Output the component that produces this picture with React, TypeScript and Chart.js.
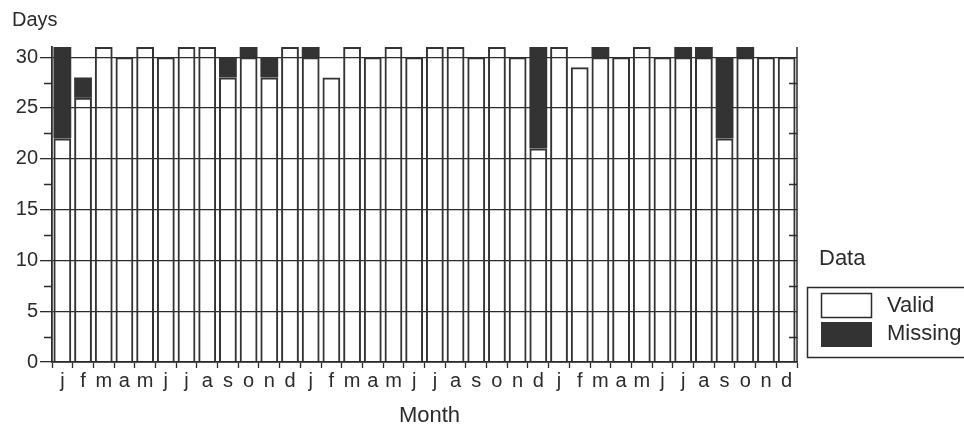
import React, { useEffect, useRef } from "react";
import { Chart, registerables } from "chart.js";

Chart.register(...registerables);

const monthLabels = [
  "j", "f", "m", "a", "m", "j", "j", "a", "s", "o", "n", "d",
  "j", "f", "m", "a", "m", "j", "j", "a", "s", "o", "n", "d",
  "j", "f", "m", "a", "m", "j", "j", "a", "s", "o", "n", "d",
];

const validDays = [
  22, 26, 31, 30, 31, 30, 31, 31, 28, 30, 28, 31,
  30, 28, 31, 30, 31, 30, 31, 31, 30, 31, 30, 21,
  31, 29, 30, 30, 31, 30, 30, 30, 22, 30, 30, 30,
];

const missingDays = [
  9, 2, null, null, null, null, null, null, 2, 1, 2, null,
  1, null, null, null, null, null, null, null, null, null, null, 10,
  null, null, 1, null, null, null, 1, 1, 8, 1, null, null,
];

const yMajorTicks = [0, 5, 10, 15, 20, 25, 30];
const yMinorTicks = [2.5, 7.5, 12.5, 17.5, 22.5, 27.5];

const INK = "#2b2b2b";
const DARK = "#333333";
const FONT = "'Liberation Sans', Arial, Helvetica, sans-serif";

const decorPlugin = {
  id: "decor",
  afterDraw(chart: any) {
    const ctx = chart.ctx;
    const y = chart.scales.y;
    const area = chart.chartArea;
    ctx.save();
    ctx.strokeStyle = INK;
    ctx.lineWidth = 1.5;
    // right axis line
    ctx.beginPath();
    ctx.moveTo(area.right, y.getPixelForValue(31));
    ctx.lineTo(area.right, y.getPixelForValue(0));
    ctx.stroke();
    // minor ticks left (outward) and right (inward)
    ctx.lineWidth = 1.3;
    for (const v of yMinorTicks) {
      const py = Math.round(y.getPixelForValue(v)) + 0.5;
      ctx.beginPath();
      ctx.moveTo(area.left - 8, py);
      ctx.lineTo(area.left, py);
      ctx.moveTo(area.right - 8, py);
      ctx.lineTo(area.right, py);
      ctx.stroke();
    }
    // texts
    ctx.fillStyle = INK;
    ctx.font = `20px ${FONT}`;
    ctx.textBaseline = "middle";
    ctx.textAlign = "left";
    ctx.fillText("Days", 12, 20);
    ctx.textAlign = "center";
    ctx.font = `22px ${FONT}`;
    ctx.fillText("Month", (area.left + area.right) / 2 + 5, 416);
    // legend
    ctx.textAlign = "left";
    ctx.font = `22px ${FONT}`;
    ctx.fillText("Data", 819, 259);
    ctx.lineWidth = 1.5;
    ctx.strokeRect(807.5, 287.5, 170, 70);
    ctx.fillStyle = "#ffffff";
    ctx.fillRect(821, 293, 50, 24);
    ctx.strokeRect(821.5, 293.5, 50, 24);
    ctx.fillStyle = DARK;
    ctx.fillRect(821, 322, 51, 25);
    ctx.fillStyle = INK;
    ctx.font = `22px ${FONT}`;
    ctx.fillText("Valid", 887, 306);
    ctx.fillText("Missing", 887, 334);
    ctx.restore();
  },
};

export default function App() {
  const canvasRef = useRef<HTMLCanvasElement | null>(null);

  useEffect(() => {
    if (!canvasRef.current) return;
    const chart = new Chart(canvasRef.current, {
      type: "bar",
      data: {
        labels: monthLabels,
        datasets: [
          {
            label: "Valid",
            data: validDays,
            backgroundColor: "rgba(255,255,255,0)",
            borderColor: DARK,
            borderWidth: 2,
            borderSkipped: "bottom",
            barPercentage: 0.86,
            categoryPercentage: 1,
          },
          {
            label: "Missing",
            data: missingDays as any,
            backgroundColor: DARK,
            borderColor: DARK,
            borderWidth: 0,
            barPercentage: 0.86,
            categoryPercentage: 1,
          },
        ],
      },
      options: {
        animation: false,
        responsive: false,
        devicePixelRatio: 1,
        layout: { padding: { left: 0, right: 167, top: 47, bottom: 0 } },
        plugins: {
          legend: { display: false },
          tooltip: { enabled: false },
          title: { display: false },
        },
        scales: {
          x: {
            stacked: true,
            offset: true,
            grid: {
              display: true,
              offset: true,
              drawOnChartArea: false,
              drawTicks: true,
              tickLength: 6,
              tickColor: INK,
              tickWidth: 1.3,
            },
            border: { display: true, color: INK, width: 1.8 },
            ticks: {
              autoSkip: false,
              maxRotation: 0,
              minRotation: 0,
              padding: 1,
              color: INK,
              font: { family: FONT, size: 20 },
            },
            afterFit: (scale: any) => {
              scale.height = 68;
            },
          },
          y: {
            stacked: true,
            min: 0,
            max: 31,
            afterBuildTicks: (scale: any) => {
              scale.ticks = yMajorTicks.map((v) => ({ value: v }));
            },
            grid: {
              color: INK,
              lineWidth: 1.3,
              drawTicks: true,
              tickLength: 12,
              tickColor: INK,
            },
            border: { display: true, color: INK, width: 1.8 },
            ticks: {
              padding: 2,
              color: INK,
              font: { family: FONT, size: 20 },
            },
            afterFit: (scale: any) => {
              scale.width = 52;
            },
          },
        },
      },
      plugins: [decorPlugin],
    });
    return () => chart.destroy();
  }, []);

  return (
    <div style={{ position: "fixed", left: 0, top: 0, width: 964, height: 430, background: "#fff" }}>
      <canvas ref={canvasRef} width={964} height={430} style={{ width: 964, height: 430, display: "block" }} />
    </div>
  );
}
